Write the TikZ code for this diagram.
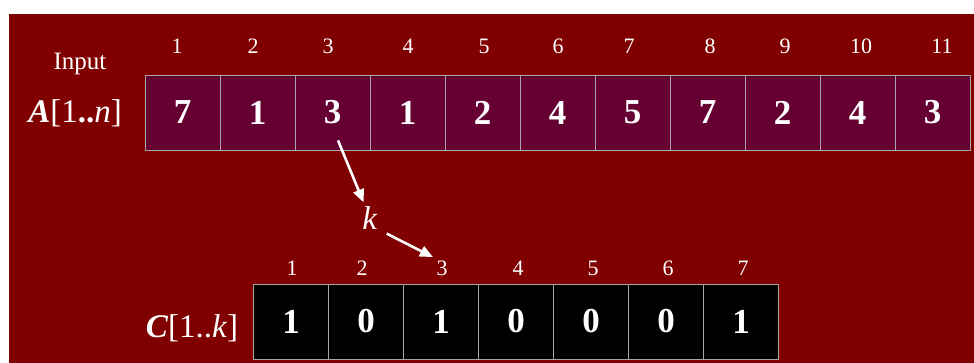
\documentclass[tikz,border=0pt]{standalone}
\usepackage{fontspec}
\setmainfont{Liberation Serif}
\usetikzlibrary{arrows.meta, positioning}
\definecolor{slidered}{HTML}{800000}
\definecolor{cellplum}{HTML}{660033}
\definecolor{cellrule}{HTML}{A6A6A6}

\begin{document}
\begin{tikzpicture}[
    x=1pt, y=-1pt,
    cellA/.style={draw=cellrule, fill=cellplum, line width=0.8pt, minimum width=75pt, minimum height=75pt, inner sep=0pt, text=white, font=\fontsize{35}{40}\selectfont\bfseries},
    cellC/.style={cellA, fill=black},
    idx/.style={text=white, font=\fontsize{22}{26}\selectfont},
    lbl/.style={text=white, font=\fontsize{33}{36}\selectfont},
    ptr/.style={-{Triangle[length=13pt,width=11pt]}, line width=2.6pt, draw=white}
  ]
    % page and slide background
    \useasboundingbox[fill=white] (0,0) rectangle (974,363);
    \fill[slidered] (9,14) rectangle (974,363);

    % input array
    \foreach \v/\x [count=\i] in {7/177,1/253,3/328,1/408,2/484,4/558,5/629,7/710,2/785,4/861,3/942} {
      \node[cellA] (a\i) at (107.5+75*\i,112.5) {\v};
      \node[idx] (ia\i) at (\x,46) {\i};
    }
    \node[idx, font=\fontsize{25}{28}\selectfont] (input) at (80,64) {Input};
    \node[lbl] (alabel) at (75,113) {\textbf{\itshape A}[1\textbf{..}\textit{n}]};

    % count array
    \foreach \v/\x [count=\i] in {1/292,0/362,1/442,0/518,0/593,0/668,1/743} {
      \node[cellC] (c\i) at (216+75*\i,321.5) {\v};
      \node[idx] (ic\i) at (\x,268) {\i};
    }
    \node[lbl] (clabel) at (192,328) {\textbf{\itshape C}[1..\textit{k}]};

    \node[lbl, inner sep=4pt] (k) at (370,218) {\textit{k}};

    \draw[ptr] ([xshift=5.5pt,yshift=10pt]a3.south) -- (k);
    \draw[ptr] ([xshift=5pt]k.south east) -- (ic3.north west);
  \end{tikzpicture}
\end{document}
